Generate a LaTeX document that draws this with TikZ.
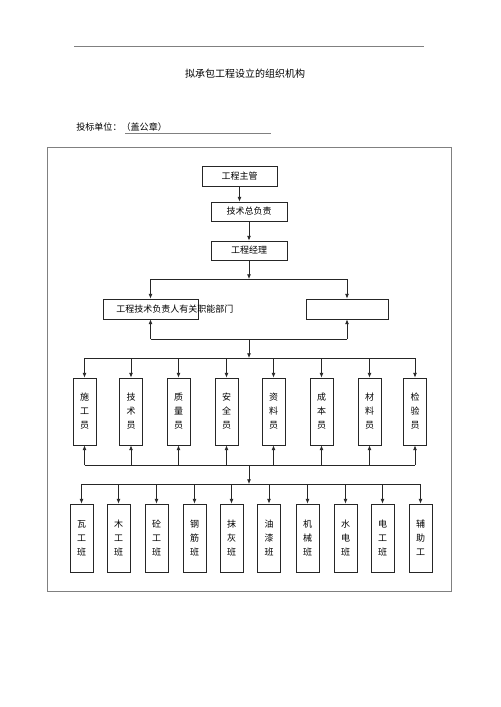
\documentclass[tikz,border=0pt]{standalone}
\usepackage{fontspec}
\usepackage{tikz}
\usetikzlibrary{arrows.meta}
\newfontfamily\cjk{Noto Sans CJK SC}

\begin{document}
\begin{tikzpicture}[x=0.75pt,y=0.75pt,yscale=-1,xscale=1,
    box/.style={draw=black!85, line width=0.6pt, inner sep=0pt},
    hbox/.style={box, minimum width=76*0.75pt, minimum height=20*0.75pt, font=\cjk\fontsize{6.75}{8}\selectfont},
    vbox/.style={box, minimum width=23*0.75pt, minimum height=67*0.75pt, align=center, font=\cjk\fontsize{6.75}{10.5}\selectfont},
    link/.style={draw=black!85, line width=0.6pt},
    arr/.style={link, -{Latex[length=3.5pt,width=3pt]}}]
    \useasboundingbox (0,0) rectangle (500,707);

    %Page rule and heading
    \draw [gray, line width=0.7pt] (74,46) -- (424,46) ;
    \node [font=\cjk\fontsize{7.5}{9}\selectfont] (title) at (245,74) {拟承包工程设立的组织机构};
    \node [anchor=west, inner sep=0pt, font=\cjk\fontsize{6.8}{8}\selectfont] (unit) at (76,127) {投标单位：（盖公章）};
    \coordinate (ulA) at (125,133);
    \coordinate (ulB) at (271,133);
    \draw [gray, line width=0.6pt] (ulA) -- (ulB) ;

    %Outer frame
    \draw [gray, line width=0.7pt] (47,147) rectangle (451,591) ;

    %Top chain
    \node [hbox, minimum width=75*0.75pt] (chief) at (239.5,176) {工程主管};
    \node [hbox, minimum height=19*0.75pt] (techhead) at (249,211.5) {技术总负责};
    \node [hbox, minimum height=19*0.75pt] (manager) at (249,250.5) {工程经理};
    \draw [arr] (chief.south) -- (chief.south |- techhead.north) ;
    \draw [arr] (techhead) -- (manager) ;

    %Departments
    \coordinate (busA) at (249,279);
    \node [box, minimum width=95*0.75pt, minimum height=20*0.75pt] (dept) at (150.5,309) {};
    \node [box, minimum width=82*0.75pt, minimum height=20*0.75pt] (side) at (347,309) {};
    \node [anchor=west, inner sep=0pt, font=\cjk\fontsize{6.75}{8}\selectfont] (deptlabel) at (116,309) {工程技术负责人有关职能部门};
    \draw [arr] (manager) -- (busA) ;
    \draw [link] (dept.north |- busA) -- (side.north |- busA) ;
    \draw [arr] (dept.north |- busA) -- (dept.north) ;
    \draw [arr] (side.north |- busA) -- (side.north) ;

    \coordinate (busB) at (249,339);
    \coordinate (busC) at (249,358);
    \draw [link] (dept.south |- busB) -- (side.south |- busB) ;
    \draw [arr] (dept.south |- busB) -- (dept.south) ;
    \draw [arr] (side.south |- busB) -- (side.south) ;
    \draw [arr] (busB) -- (busC) ;

    %Staff
    \foreach \x/\t [count=\i] in {84.5/施\\工\\员, 131/技\\术\\员, 178.5/质\\量\\员, 226.5/安\\全\\员,
        273.5/资\\料\\员, 321.5/成\\本\\员, 369.5/材\\料\\员, 415/检\\验\\员}
        \node [vbox] (staff\i) at (\x,411.5) {\t};
    \draw [link] (staff1.north |- busC) -- (staff8.north |- busC) ;
    \foreach \i in {1,...,8}
        \draw [arr] (staff\i.north |- busC) -- (staff\i.north) ;

    \coordinate (busD) at (249,465);
    \coordinate (busE) at (249,484);
    \draw [link] (staff1.south |- busD) -- (staff8.south |- busD) ;
    \foreach \i in {1,...,8}
        \draw [arr] (staff\i.south |- busD) -- (staff\i.south) ;
    \draw [arr] (busD) -- (busE) ;

    %Work crews
    \foreach \x/\t [count=\i] in {81.5/瓦\\工\\班, 118.5/木\\工\\班, 156.5/砼\\工\\班, 194.5/钢\\筋\\班,
        231.5/抹\\灰\\班, 269/油\\漆\\班, 307.5/机\\械\\班, 345.5/水\\电\\班, 382.5/电\\工\\班, 420.5/辅\\助\\工}
        \node [vbox, minimum height=68*0.75pt] (crew\i) at (\x,538) {\t};
    \draw [link] (crew1.north |- busE) -- (crew10.north |- busE) ;
    \foreach \i in {1,...,10}
        \draw [arr] (crew\i.north |- busE) -- (crew\i.north) ;

\end{tikzpicture}
\end{document}
